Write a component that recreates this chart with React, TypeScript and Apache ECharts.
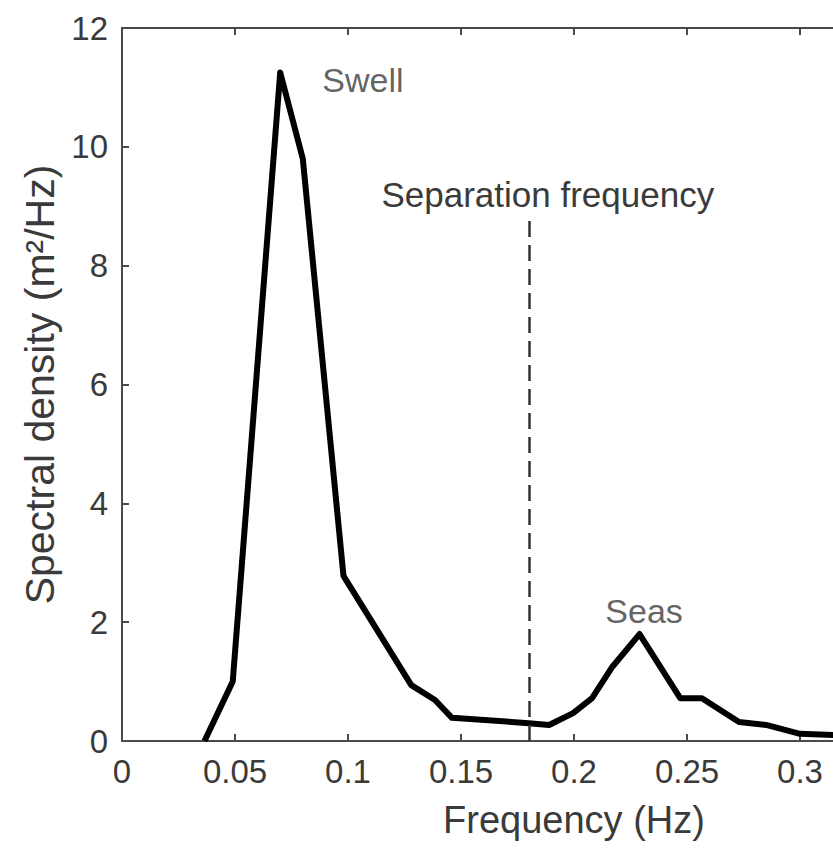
import React, { useEffect, useRef } from "react";
import * as echarts from "echarts";

// Spectrum samples
const frequency = [0.0365, 0.049, 0.07, 0.08, 0.098, 0.128, 0.1385, 0.146, 0.18, 0.189, 0.1996, 0.208, 0.217, 0.229, 0.247, 0.2566, 0.273, 0.285, 0.3, 0.316];
const density = [0, 1.0, 11.25, 9.8, 2.78, 0.94, 0.69, 0.39, 0.3, 0.27, 0.47, 0.72, 1.25, 1.8, 0.72, 0.72, 0.32, 0.27, 0.12, 0.1];

const xTickValues = [0, 0.05, 0.1, 0.15, 0.2, 0.25, 0.3];
const xTickLabels = ["0", "0.05", "0.1", "0.15", "0.2", "0.25", "0.3"];
const yTickLabels = ["0", "2", "4", "6", "8", "10", "12"];

const separationFrequency = 0.18;
const separationLineTop = 8.8;
const annotationNames = ["Swell", "Seas"];
const annotationFreq = [0.1066, 0.231];
const annotationDensity = [11.12, 2.19];

export default function App() {
  const ref = useRef<HTMLDivElement>(null);
  useEffect(() => {
    const chart = echarts.init(ref.current!, null, { renderer: "svg" });
    const font = "'Liberation Sans', Arial, Helvetica, sans-serif";
    const axisColor = "#4a4a4a";
    const textColor = "#3a3a3a";
    const axisLine = { show: true, onZero: false, lineStyle: { color: axisColor, width: 2 } };
    chart.setOption({
      animation: false,
      backgroundColor: "#ffffff",
      grid: { left: 122, top: 28, right: -193, bottom: 109, containLabel: false, outerBoundsMode: "none" },
      xAxis: [
        {
          type: "value",
          min: 0,
          max: 0.4,
          interval: 0.05,
          position: "bottom",
          name: "Frequency (Hz)",
          nameLocation: "middle",
          nameGap: 60,
          nameTextStyle: { fontFamily: font, fontSize: 38, color: textColor },
          axisLine,
          axisTick: { show: true, inside: true, length: 7, customValues: xTickValues, lineStyle: { color: axisColor, width: 2 } },
          axisLabel: {
            customValues: xTickValues,
            formatter: (v: number) => xTickLabels[xTickValues.findIndex((t) => Math.abs(t - v) < 1e-9)] ?? "",
            margin: 14,
            fontFamily: font,
            fontSize: 33,
            color: textColor,
          },
          splitLine: { show: false },
        },
        {
          type: "value",
          min: 0,
          max: 0.4,
          interval: 0.05,
          position: "top",
          axisLine,
          axisTick: { show: true, inside: true, length: 7, customValues: xTickValues, lineStyle: { color: axisColor, width: 2 } },
          axisLabel: { show: false },
          splitLine: { show: false },
        },
      ],
      yAxis: {
        type: "value",
        min: 0,
        max: 12,
        interval: 2,
        name: "Spectral density (m²/Hz)",
        nameLocation: "middle",
        nameGap: 62,
        nameTextStyle: { fontFamily: font, fontSize: 41, color: textColor },
        axisLine,
        axisTick: { show: true, inside: true, length: 7, lineStyle: { color: axisColor, width: 2 } },
        axisLabel: {
          formatter: (v: number) => yTickLabels[Math.round(v / 2)] ?? "",
          margin: 14,
          fontFamily: font,
          fontSize: 33,
          color: textColor,
        },
        splitLine: { show: false },
      },
      series: [
        {
          type: "line",
          data: frequency.map((f, i) => [f, density[i]]),
          symbol: "none",
          lineStyle: { color: "#000000", width: 6, join: "round" },
          markLine: {
            silent: true,
            symbol: "none",
            lineStyle: { type: [16, 8], color: "#333333", width: 2.5 },
            label: {
              show: true,
              position: "end",
              formatter: "Separation frequency",
              distance: 6,
              offset: [19, 0],
              fontFamily: font,
              fontSize: 35,
              color: textColor,
            },
            data: [[{ coord: [separationFrequency, 0] }, { coord: [separationFrequency, separationLineTop] }]],
          },
        },
        {
          type: "scatter",
          symbolSize: 0,
          silent: true,
          data: annotationNames.map((n, i) => ({ name: n, value: [annotationFreq[i], annotationDensity[i]] })),
          label: {
            show: true,
            position: "inside",
            formatter: "{b}",
            fontFamily: font,
            fontSize: 34,
            color: textColor,
          },
        },
      ],
    });
    return () => chart.dispose();
  }, []);
  return <div ref={ref} style={{ width: 833, height: 850, position: "absolute", left: 0, top: 0 }} />;
}
